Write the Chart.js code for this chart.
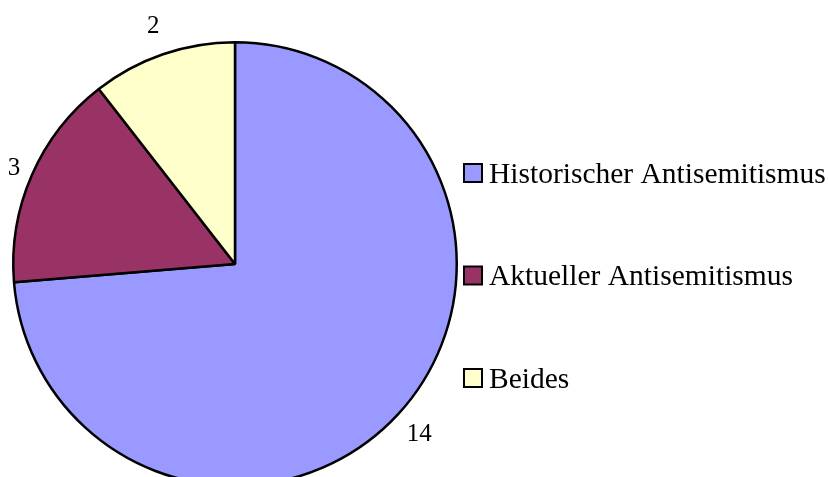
<!DOCTYPE html>
<html>
<head>
<meta charset="utf-8">
<script src="https://cdn.jsdelivr.net/npm/chart.js@4/dist/chart.umd.min.js"></script>
<style>
	body { margin: 0; background: #fff; }
	#wrap { width: 828px; height: 477px; overflow: hidden; position: relative; }
	#pie { position: absolute; left: 0; top: 0; }
</style>
</head>
<body>
<div id="wrap"><canvas id="pie" width="828" height="500"></canvas></div>
<script>
const categories = ['Historischer Antisemitismus', 'Aktueller Antisemitismus', 'Beides'];
const counts = [14, 3, 2];
const sliceColors = ['#9999FF', '#993366', '#FFFFCC'];

const serif = '"Liberation Serif", "Times New Roman", serif';

// labels outside the slices plus the legend on the right
const pieText = {
	id: 'pieText',
	afterDatasetsDraw(chart) {
		const ctx = chart.ctx;
		const meta = chart.getDatasetMeta(0);
		ctx.save();
		ctx.fillStyle = '#000';
		ctx.font = '25px ' + serif;
		ctx.textAlign = 'center';
		ctx.textBaseline = 'middle';
		meta.data.forEach((arc, i) => {
			const mid = (arc.startAngle + arc.endAngle) / 2;
			const dx = Math.cos(mid);
			const dy = Math.sin(mid);
			const text = String(counts[i]);
			const halfW = ctx.measureText(text).width / 2;
			const dist = arc.outerRadius + 6 + 24 * Math.abs(dy) + 0.7 * halfW * Math.abs(dx);
			ctx.fillText(text, arc.x + dx * dist, arc.y + dy * dist + 1);
		});

		ctx.font = '29.5px ' + serif;
		ctx.textAlign = 'left';
		ctx.textBaseline = 'alphabetic';
		ctx.lineWidth = 2;
		ctx.strokeStyle = '#000';
		categories.forEach((name, i) => {
			const top = 164 + i * 102.5;
			ctx.fillStyle = sliceColors[i];
			ctx.fillRect(464, top, 18, 18);
			ctx.strokeRect(464, top, 18, 18);
			ctx.fillStyle = '#000';
			ctx.fillText(name, 489, top + 18.5);
		});
		ctx.restore();
	}
};

new Chart(document.getElementById('pie'), {
	type: 'pie',
	data: {
		labels: categories,
		datasets: [
			{
				data: counts,
				backgroundColor: sliceColors,
				borderColor: '#000',
				borderWidth: 2.5,
				hoverOffset: 0,
			},
		],
	},
	options: {
		responsive: false,
		animation: false,
		events: [],
		layout: {
			padding: { left: 12, top: 41, right: 370, bottom: 13 },
		},
		plugins: {
			legend: { display: false },
			tooltip: { enabled: false },
		},
	},
	plugins: [pieText],
});
</script>
</body>
</html>
